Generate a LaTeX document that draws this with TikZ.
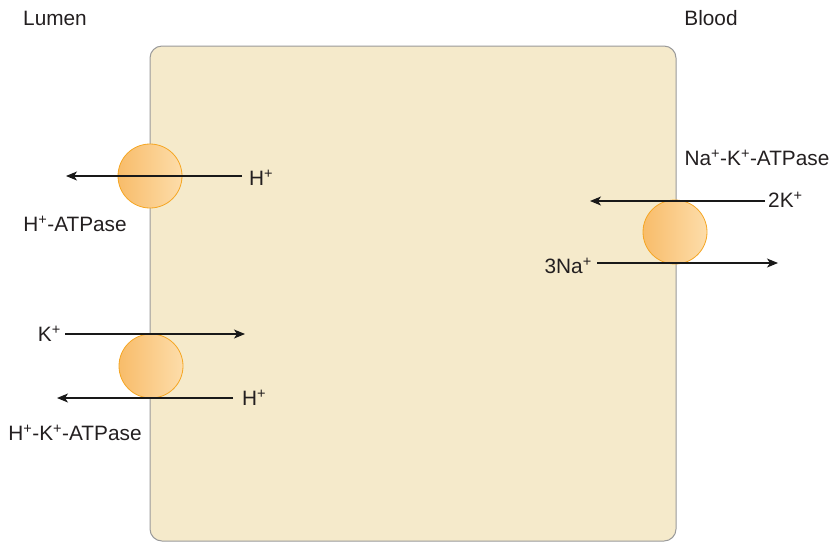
\documentclass[tikz,border=0pt]{standalone}
\usepackage{fontspec}
\setmainfont{Liberation Sans}
\usetikzlibrary{arrows.meta}
\definecolor{cellfill}{HTML}{F5EACB}
\definecolor{cellline}{HTML}{9A9A9A}
\definecolor{pumpline}{HTML}{F5A623}
\definecolor{pumpleft}{HTML}{F8BC6A}
\definecolor{pumpright}{HTML}{FDDDAA}
\definecolor{txt}{HTML}{231F20}
\newcommand{\ion}[2]{#1\textsuperscript{#2}}
\begin{document}
\begin{tikzpicture}[x=1pt,y=-1pt,
  lbl/.style={font=\fontsize{20.8}{24}\selectfont, text=txt, inner sep=0pt},
  pump/.style={circle, minimum size=64pt, inner sep=0pt, draw=pumpline, line width=0.8pt,
    left color=pumpleft, right color=pumpright},
  flux/.style={-{Stealth[length=11pt,width=9pt,inset=3pt]}, line width=1.1pt, draw=black!90}]
\useasboundingbox (0,0) rectangle (834,542);
% cell body
\draw[cellline, fill=cellfill, line width=1pt, rounded corners=12pt] (150,46) rectangle (676,541);
% compartment titles
\node[lbl] (lumen) at (55,18) {Lumen};
\node[lbl] (blood) at (711,18) {Blood};
% apical H+-ATPase
\node[pump] (hpump) at (150,176) {};
\coordinate (h1s) at (242,176);
\coordinate (h1e) at (66,176);
\draw[flux] (h1s) -- (h1e);
\node[lbl, anchor=west] (h1) at (249,178) {\ion{H}{+}};
\node[lbl] (hatp) at (75,224) {\ion{H}{+}-ATPase};
% apical H+-K+-ATPase
\node[pump] (hkpump) at (151,366) {};
\coordinate (k1s) at (65,334);
\coordinate (k1e) at (245,334);
\draw[flux] (k1s) -- (k1e);
\node[lbl, anchor=east] (k1) at (61,334) {\ion{K}{+}};
\coordinate (h2s) at (233,398);
\coordinate (h2e) at (57,398);
\draw[flux] (h2s) -- (h2e);
\node[lbl, anchor=west] (h2) at (242,398) {\ion{H}{+}};
\node[lbl] (hkatp) at (75,433) {\ion{H}{+}-\ion{K}{+}-ATPase};
% basolateral Na+-K+-ATPase
\node[pump] (nkpump) at (675,232) {};
\node[lbl] (nkatp) at (757,158) {\ion{Na}{+}-\ion{K}{+}-ATPase};
\coordinate (k2s) at (765,201);
\coordinate (k2e) at (590,201);
\draw[flux] (k2s) -- (k2e);
\node[lbl, anchor=west] (k2) at (768,200) {2\ion{K}{+}};
\coordinate (n1s) at (597,263);
\coordinate (n1e) at (778,263);
\draw[flux] (n1s) -- (n1e);
\node[lbl, anchor=east] (n1) at (592,266) {3\ion{Na}{+}};
\end{tikzpicture}
\end{document}
